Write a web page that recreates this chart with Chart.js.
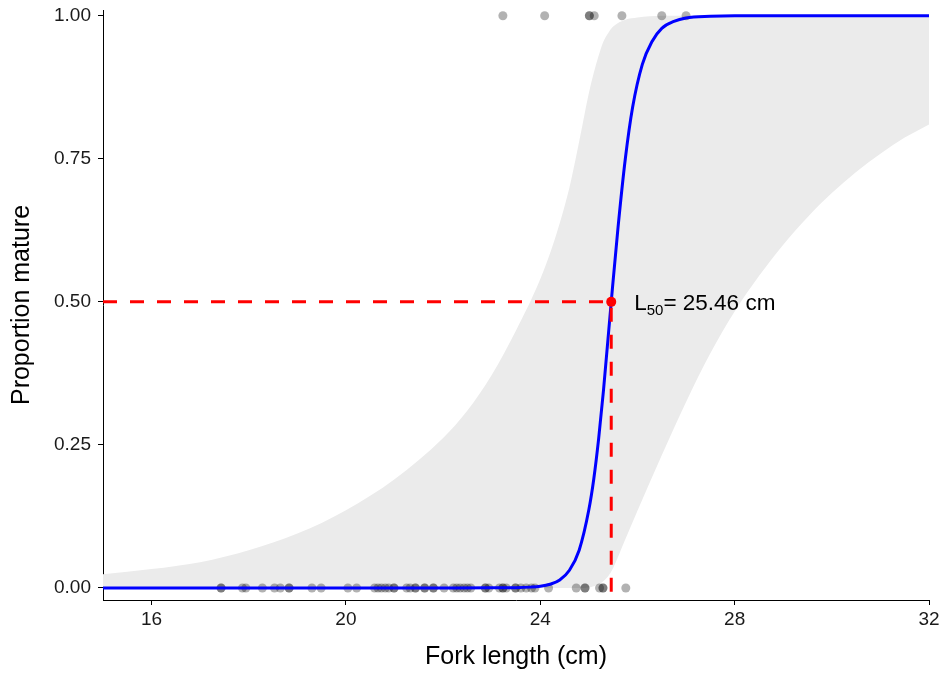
<!DOCTYPE html>
<html lang="en">
  <head>
    <title>Maturity ogive</title>
    <meta charset="utf-8">
    <script src="https://cdn.jsdelivr.net/npm/chart.js@4.4.0/dist/chart.umd.min.js"></script>
    <style>
      html, body { margin: 0; padding: 0; background: #fff; }
    </style>
  </head>
  <body>
    <canvas id="ogive" width="945" height="674"></canvas>
  <script>
    // logistic fit: fork length (cm) vs proportion mature
    var L50 = 25.46;

    var curveX = [15, 20, 22, 23, 23.5, 23.8, 24, 24.2, 24.4, 24.6, 24.8, 25, 25.1, 25.2, 25.3, 25.46, 25.6, 25.75, 25.9, 26.1, 26.3, 26.5, 26.75, 27, 27.5, 28, 32];
    var curveP = [0, 0, 0.0001, 0.0002, 0.0005, 0.0015, 0.003, 0.0065, 0.014, 0.031, 0.066, 0.137, 0.19, 0.26, 0.345, 0.5, 0.63, 0.75, 0.84, 0.915, 0.955, 0.978, 0.99, 0.996, 0.999, 1, 1];

    // 95% confidence band
    var bandX     = [15, 16, 17, 18, 19, 20, 21, 22, 22.5, 23, 23.5, 24, 24.3, 24.6, 24.8, 25, 25.1, 25.2, 25.3, 25.4, 25.5, 25.75, 26, 26.25, 26.5, 27, 27.5, 28, 28.5, 29, 29.5, 30, 30.5, 31, 31.5, 32];
    var bandUpper = [0.024, 0.033, 0.045, 0.066, 0.095, 0.136, 0.19, 0.262, 0.31, 0.372, 0.45, 0.54, 0.61, 0.7, 0.78, 0.865, 0.9, 0.93, 0.955, 0.97, 0.981, 0.993, 0.997, 0.999, 1, 1, 1, 1, 1, 1, 1, 1, 1, 1, 1, 1];
    var bandLower = [0, 0, 0, 0, 0, 0, 0, 0, 0, 0, 0, 0, 0, 0, 0, 0.001, 0.003, 0.006, 0.012, 0.021, 0.035, 0.085, 0.135, 0.184, 0.232, 0.325, 0.41, 0.483, 0.545, 0.6, 0.648, 0.69, 0.727, 0.759, 0.787, 0.81];

    // observed fish: immature (0) and mature (1)
    var immatureLen = [17.43, 17.43, 17.87, 17.94, 18.28, 18.53, 18.65, 18.83, 18.83, 19.30, 19.49, 20.04, 20.22,
                       20.59, 20.66, 20.73, 20.81, 20.88, 20.99, 20.99, 21.25, 21.32, 21.43, 21.43, 21.62, 21.62,
                       21.80, 21.80, 22.02, 22.21, 22.28, 22.35, 22.43, 22.50, 22.57, 22.87, 22.87, 22.94, 23.16,
                       23.23, 23.23, 23.30, 23.49, 23.49, 23.60, 23.71, 23.82, 23.89, 24.17, 24.74, 24.92, 24.92,
                       25.22, 25.29, 25.29, 25.76];
    var matureLen = [23.23, 24.09, 25.01, 25.01, 25.11, 25.68, 26.50, 27.00];

    var xTicks = [16, 20, 24, 28, 32];
    var yTicks = [0, 0.25, 0.5, 0.75, 1];
    var yMin = -0.021, yMax = 1.01;

    function pairs(xs, ys) {
        return xs.map(function(x, i){ return {x: x, y: ys[i]}; });
    }
    function flat(xs, y) {
        return xs.map(function(x){ return {x: x, y: y}; });
    }

    var fam = "'Liberation Sans', Arial, sans-serif";
    var tickFont = {family: fam, size: 19};
    var titleFont = {family: fam, size: 25};

    // "L50= 25.46 cm" next to the red point
    var l50Label = {
        id: 'l50Label',
        afterDatasetsDraw: function(chart) {
            var ctx = chart.ctx;
            var x = chart.scales.x.getPixelForValue(L50) + 23;
            var y = chart.scales.y.getPixelForValue(0.5) + 8;
            ctx.save();
            ctx.fillStyle = '#000';
            ctx.textBaseline = 'alphabetic';
            ctx.textAlign = 'left';
            ctx.font = "22.5px " + fam;
            ctx.fillText('L', x, y);
            x += ctx.measureText('L').width;
            ctx.font = "15px " + fam;
            ctx.fillText('50', x, y + 5);
            x += ctx.measureText('50').width;
            ctx.font = "22.5px " + fam;
            ctx.fillText('= 25.46 cm', x, y);
            ctx.restore();
        }
    };

    var ctx = document.getElementById('ogive').getContext('2d');
    var ogive = new Chart(ctx, {
        type: 'line',
        data: {
            datasets: [{
                // L50 point
                data: [{x: L50, y: 0.5}],
                showLine: false,
                pointRadius: 5,
                pointBackgroundColor: '#ff0000',
                pointBorderWidth: 0
            }, {
                data: [{x: 15, y: 0.5}, {x: L50, y: 0.5}],
                borderColor: '#ff0000',
                borderWidth: 3,
                borderDash: [14, 13],
                pointRadius: 0
            }, {
                data: [{x: L50, y: 0.5}, {x: L50, y: yMin}],
                borderColor: '#ff0000',
                borderWidth: 3,
                borderDash: [14, 13],
                borderDashOffset: -6,
                pointRadius: 0
            }, {
                data: pairs(curveX, curveP),
                borderColor: '#0000ff',
                borderWidth: 3,
                cubicInterpolationMode: 'monotone',
                pointRadius: 0
            }, {
                data: flat(immatureLen, 0).concat(flat(matureLen, 1)),
                showLine: false,
                pointRadius: 4.5,
                pointBackgroundColor: 'rgba(0,0,0,0.3)',
                pointBorderWidth: 0
            }, {
                data: pairs(bandX, bandUpper),
                borderWidth: 0,
                borderColor: 'rgba(0,0,0,0)',
                backgroundColor: '#ebebeb',
                cubicInterpolationMode: 'monotone',
                fill: '+1',
                pointRadius: 0
            }, {
                data: pairs(bandX, bandLower),
                borderWidth: 0,
                borderColor: 'rgba(0,0,0,0)',
                cubicInterpolationMode: 'monotone',
                fill: false,
                pointRadius: 0
            }]
        },
        options: {
            responsive: false,
            animation: false,
            layout: {padding: {top: 10, right: 16, left: 0, bottom: 0}},
            plugins: {
                legend: {display: false},
                tooltip: {enabled: false}
            },
            scales: {
                x: {
                    type: 'linear',
                    min: 15,
                    max: 32,
                    afterBuildTicks: function(s){ s.ticks = xTicks.map(function(v){ return {value: v}; }); },
                    afterFit: function(s){ s.height = 74; s.paddingLeft = 0; s.paddingRight = 0; },
                    grid: {drawOnChartArea: false, tickLength: 5, color: '#000'},
                    border: {color: '#000', width: 1},
                    ticks: {font: tickFont, color: '#1a1a1a', padding: 3, maxRotation: 0,
                            callback: function(v){ return String(v); }},
                    title: {display: true, text: 'Fork length (cm)', font: titleFont, color: '#000',
                            padding: {top: 0, bottom: 2}}
                },
                y: {
                    type: 'linear',
                    min: yMin,
                    max: yMax,
                    afterBuildTicks: function(s){ s.ticks = yTicks.map(function(v){ return {value: v}; }); },
                    afterFit: function(s){ s.width = 103; s.paddingTop = 0; s.paddingBottom = 0; },
                    grid: {drawOnChartArea: false, tickLength: 5, color: '#000'},
                    border: {color: '#000', width: 1},
                    ticks: {font: tickFont, color: '#1a1a1a', padding: 7,
                            callback: function(v){ return Number(v).toFixed(2); }},
                    title: {display: true, text: 'Proportion mature', font: titleFont, color: '#000',
                            padding: {top: 7, bottom: 0}}
                }
            }
        },
        plugins: [l50Label]
    });
  </script>
  </body>
</html>
